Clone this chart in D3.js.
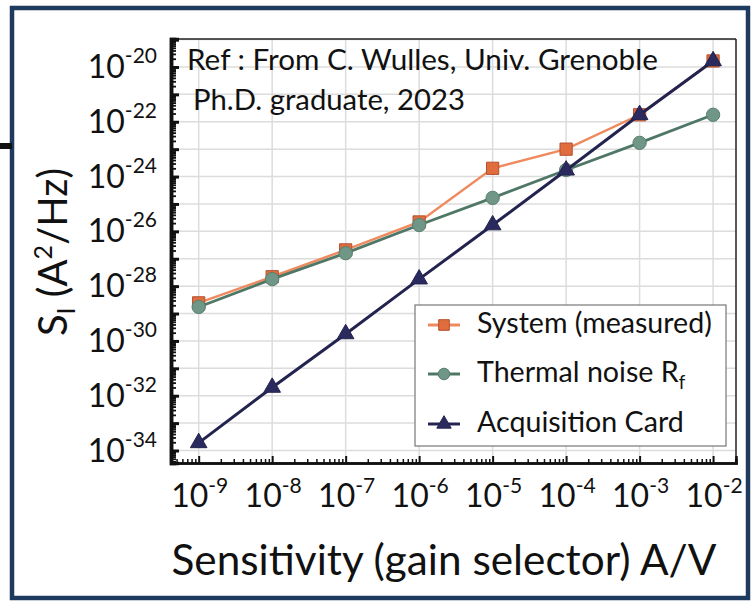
<!DOCTYPE html>
<html><head><meta charset="utf-8">
<script src="https://cdn.jsdelivr.net/npm/d3@7"></script>
<style>
html,body{margin:0;padding:0;background:#fff;}
svg{display:block;font-family:Lato, "Open Sans", sans-serif;}
</style></head>
<body>
<svg id="chart" width="753" height="604"></svg>
<script>
// ---- data ----
const gains = [1e-9, 1e-8, 1e-7, 1e-6, 1e-5, 1e-4, 1e-3, 1e-2];
const systemMeasured = [2.45e-29, 2.2e-28, 2.1e-27, 2.2e-26, 2.0e-24, 1.0e-23, 1.8e-22, 1.66e-20];
const thermalNoise   = [1.74e-29, 1.8e-28, 1.6e-27, 1.7e-26, 1.66e-25, 1.74e-24, 1.7e-23, 1.8e-22];
const acquisitionCard= [1.9e-34, 2.0e-32, 1.8e-30, 1.8e-28, 1.7e-26, 1.7e-24, 1.8e-22, 1.66e-20];
const xTickExps = [-9, -8, -7, -6, -5, -4, -3, -2];
const yTickExps = [-20, -22, -24, -26, -28, -30, -32, -34];
const seriesNames = ["System (measured)", "Thermal noise R", "Acquisition Card"];
const annotation = ["Ref : From C. Wulles, Univ. Grenoble", "Ph.D. graduate, 2023"];
const xLabel = "Sensitivity (gain selector) A/V";

// ---- layout ----
const svg = d3.select("#chart");
const L = 171, R = 736, T = 39, B = 463;
const x = d3.scaleLog().domain([4.2e-10, 2.05e-2]).range([L, R]);
const y = d3.scaleLog().domain([3.5e-35, 1.05e-19]).range([B, T]);

function fit(sel, w) {
  const cur = sel.node().getComputedTextLength();
  const fs = parseFloat(sel.attr("font-size"));
  const nf = fs * w / cur;
  sel.attr("font-size", nf);
  return nf;
}

// outer frame
svg.append("rect").attr("x", 12).attr("y", 8).attr("width", 736).attr("height", 590)
  .attr("fill", "none").attr("stroke", "#1e3a5f").attr("stroke-width", 4.5);
svg.append("rect").attr("x", 0).attr("y", 143).attr("width", 12).attr("height", 6).attr("fill", "#111");

// grid
const decX = d3.range(-9, -1).map(e => Math.pow(10, e));
const decY = d3.range(-34, -18).map(e => Math.pow(10, e));
const g = svg.append("g");
g.selectAll(".gx").data(decX).join("line")
  .attr("x1", d => x(d)).attr("x2", d => x(d)).attr("y1", T).attr("y2", B)
  .attr("stroke", "#dcdcdc").attr("stroke-width", 1.5);
g.selectAll(".gy").data(decY).join("line")
  .attr("y1", d => y(d)).attr("y2", d => y(d)).attr("x1", L).attr("x2", R)
  .attr("stroke", "#dcdcdc").attr("stroke-width", 1.5);

// frame of plot
svg.append("line").attr("x1", L).attr("x2", R).attr("y1", T).attr("y2", T).attr("stroke", "#222").attr("stroke-width", 1.5);
svg.append("line").attr("x1", R).attr("x2", R).attr("y1", T).attr("y2", B).attr("stroke", "#222").attr("stroke-width", 1.5);

// minor ticks
function minors(lo, hi) {
  const out = [];
  for (let e = Math.floor(Math.log10(lo)); e <= Math.ceil(Math.log10(hi)); e++)
    for (let m = 2; m <= 9; m++) { const v = m * Math.pow(10, e); if (v >= lo && v <= hi) out.push(v); }
  return out;
}
const xMin = minors(x.domain()[0], x.domain()[1]);
const yMin = minors(y.domain()[0], y.domain()[1]);

const xAxis = d3.axisBottom(x).tickValues(decX).tickSize(-7).tickFormat("");
const xAxisMinor = d3.axisBottom(x).tickValues(xMin).tickSize(-4).tickFormat("");
const yAxis = d3.axisLeft(y).tickValues(decY).tickSize(-8).tickFormat("");
const yAxisMinor = d3.axisLeft(y).tickValues(yMin).tickSize(-5).tickFormat("");
function style(gg, w) {
  gg.selectAll("path").attr("stroke", "#111");
  gg.selectAll("line").attr("stroke", "#111").attr("stroke-width", w);
}
svg.append("g").attr("transform", `translate(0,${B})`).call(xAxisMinor).call(gg => style(gg, 1.5)).select("path").attr("stroke-width", 2.5);
svg.append("g").attr("transform", `translate(0,${B})`).call(xAxis).call(gg => style(gg, 2)).select("path").attr("stroke-width", 2.5);
svg.append("g").attr("transform", `translate(${L},0)`).call(yAxisMinor).call(gg => style(gg, 1.8)).select("path").attr("stroke-width", 3.5);
svg.append("g").attr("transform", `translate(${L},0)`).call(yAxis).call(gg => style(gg, 3)).select("path").attr("stroke-width", 3.5);

// tick labels
xTickExps.forEach(e => {
  const t = svg.append("text").attr("x", x(Math.pow(10, e)) + 1).attr("y", 507)
    .attr("text-anchor", "middle").attr("fill", "#111").attr("font-size", 32);
  t.append("tspan").text("10");
  t.append("tspan").attr("dy", -14).attr("font-size", 21).text(String(e));
});
yTickExps.forEach(e => {
  const t = svg.append("text").attr("x", 157).attr("y", y(Math.pow(10, e)) + 11)
    .attr("text-anchor", "end").attr("fill", "#111").attr("font-size", 32);
  t.append("tspan").text("10");
  t.append("tspan").attr("dy", -15).attr("font-size", 21).text(String(e));
});

// axis titles
const xl = svg.append("text").attr("x", 444).attr("y", 575).attr("text-anchor", "middle")
  .attr("fill", "#111").attr("font-size", 36).text(xLabel);
fit(xl, 545);
const yl = svg.append("text").attr("transform", "translate(67,252) rotate(-90)")
  .attr("text-anchor", "middle").attr("fill", "#111").attr("font-size", 40);
yl.append("tspan").text("S");
yl.append("tspan").attr("font-size", 25).attr("dy", 8).text("I");
yl.append("tspan").attr("dy", -8).text(" (A");
yl.append("tspan").attr("font-size", 25).attr("dy", -15).text("2");
yl.append("tspan").attr("dy", 15).text("/Hz)");

// series
const series = [
  { name: seriesNames[0], vals: systemMeasured, line: "#ee8a5e", fill: "#e06d3e", stroke: "#b5502e", shape: d3.symbolSquare, size: 150, lw: 2.5 },
  { name: seriesNames[1], vals: thermalNoise, line: "#4e7766", fill: "#6f9686", stroke: "#58806f", shape: d3.symbolCircle, size: 140, lw: 2.8 },
  { name: seriesNames[2], vals: acquisitionCard, line: "#23234f", fill: "#2a2a5e", stroke: "#23234f", shape: d3.symbolTriangle, size: 120, lw: 3 }
];
const lineGen = d3.line().x(d => x(d[0])).y(d => y(d[1]));
series.forEach(s => {
  const pts = gains.map((gv, i) => [gv, s.vals[i]]);
  svg.append("path").datum(pts).attr("d", lineGen).attr("fill", "none")
    .attr("stroke", s.line).attr("stroke-width", s.lw);
  svg.selectAll(null).data(pts).join("path")
    .attr("transform", d => `translate(${x(d[0])},${y(d[1])})`)
    .attr("d", d3.symbol().type(s.shape).size(s.size))
    .attr("fill", s.fill).attr("stroke", s.stroke).attr("stroke-width", 1);
});

// annotation
const a1 = svg.append("text").attr("x", 187).attr("y", 70).attr("fill", "#111").attr("font-size", 27).text(annotation[0]);
fit(a1, 471);
const a2 = svg.append("text").attr("x", 193).attr("y", 110).attr("fill", "#111").attr("font-size", 27).text(annotation[1]);
fit(a2, 272);

// legend
svg.append("rect").attr("x", 415).attr("y", 305).attr("width", 311).attr("height", 141)
  .attr("fill", "#fff").attr("stroke", "#777").attr("stroke-width", 1.2);
const legY = [325, 374, 424];
let legFont = 25;
series.forEach((s, i) => {
  const ly = legY[i];
  svg.append("line").attr("x1", 428).attr("x2", 460).attr("y1", ly).attr("y2", ly)
    .attr("stroke", s.line).attr("stroke-width", 3);
  svg.append("path").attr("transform", `translate(444,${ly})`)
    .attr("d", d3.symbol().type(s.shape).size(s.size * 0.75))
    .attr("fill", s.fill).attr("stroke", s.stroke).attr("stroke-width", 1);
  const t = svg.append("text").attr("x", 477).attr("y", ly + 8).attr("fill", "#111").attr("font-size", legFont);
  t.append("tspan").text(s.name);
  if (i === 1) t.append("tspan").attr("font-size", legFont * 0.65).attr("dy", 7).text("f");
  if (i === 0) legFont = fit(t, 235);
});
</script>
</body></html>
